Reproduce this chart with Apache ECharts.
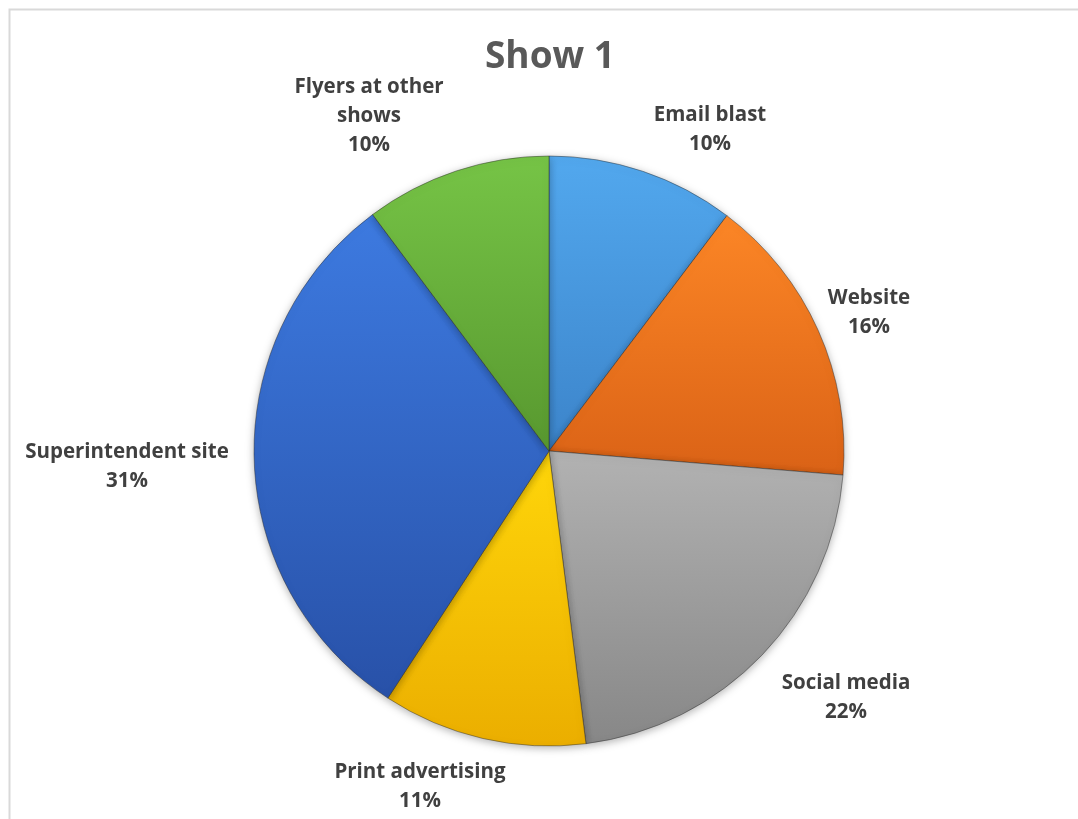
<!DOCTYPE html>
<html>
<head>
<meta charset="utf-8">
<script src="https://cdn.jsdelivr.net/npm/echarts@6/dist/echarts.min.js"></script>
<style>
html,body{margin:0;padding:0;background:#fff;}
#chart{width:1078px;height:819px;}
</style>
</head>
<body>
<div id="chart"></div>
<script>
// ---- data ----
const categories = ["Email blast", "Website", "Social media", "Print advertising", "Superintendent site", "Flyers at other shows"];
const values = [10.3, 16.0, 21.7, 11.2, 30.6, 10.2];
const title = "Show 1";

// ---- style ----
const CX = 549, CY = 451, R = 295;
const topColors = ["#52a8ee", "#fc8626", "#b2b2b2", "#ffd60a", "#3d7ae0", "#76c446"];
const botColors = ["#3c84ca", "#da6216", "#878787", "#ebae00", "#2851a8", "#58982f"];
const labelText = ["Email blast", "Website", "Social media", "Print advertising", "Superintendent site", "Flyers at other\nshows"];
const labelCenters = [[710,130],[869,313],[846,698],[420,787],[127,467],[369,116]];
const FONT = '"Open Sans", Lato, sans-serif';

const chart = echarts.init(document.getElementById('chart'), null, {renderer:'canvas'});
const data = categories.map((c, i) => ({
  name: c,
  value: values[i],
  itemStyle: {
    color: new echarts.graphic.LinearGradient(0, 0, 0, 1, [
      {offset: 0, color: topColors[i]},
      {offset: 1, color: botColors[i]}
    ])
  }
}));

chart.setOption({
  animation: false,
  graphic: [{
    type: 'rect', left: 7, top: 7, silent: true,
    shape: {width: 1090, height: 830},
    style: {fill: 'none', stroke: '#d9d9d9', lineWidth: 2}
  }],
  title: {
    text: title, left: CX - 4, textAlign: 'center', top: 34,
    textStyle: {fontFamily: FONT, fontWeight: 'bold', fontSize: 37, color: '#595959'}
  },
  series: [{
    type: 'pie',
    center: [CX, CY],
    radius: R,
    startAngle: 90,
    clockwise: true,
    percentPrecision: 0,
    data: data,
    itemStyle: {
      borderColor: 'rgba(40,40,40,0.45)', borderWidth: 1,
      shadowBlur: 8, shadowColor: 'rgba(0,0,0,0.30)', shadowOffsetY: 2
    },
    label: {
      show: true, position: 'outside',
      overflow: 'none', width: 300, edgeDistance: 0,
      formatter: p => labelText[p.dataIndex] + '\n' + p.percent + '%',
      fontFamily: FONT, fontWeight: 'bold', fontSize: 20.5,
      color: '#404040', lineHeight: 29, align: 'center'
    },
    labelLine: {show: false},
    labelLayout: p => ({x: labelCenters[p.dataIndex][0], y: labelCenters[p.dataIndex][1], align: 'center', verticalAlign: 'middle'}),
    emphasis: {disabled: true}
  }]
});
</script>
</body>
</html>
